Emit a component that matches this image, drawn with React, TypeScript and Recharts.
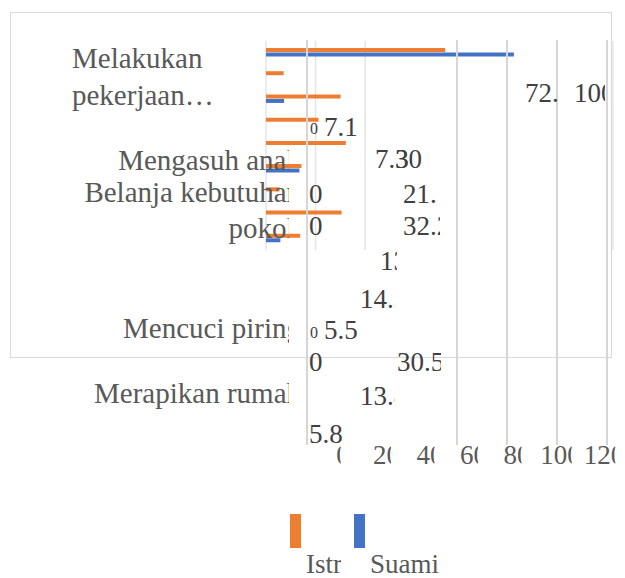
import { BarChart, Bar, XAxis, YAxis, CartesianGrid, Legend } from "recharts";

// only every other category name is shown in the picture
const categories = [
  "Melakukan pekerjaan…",
  "",
  "Mengasuh anak",
  "",
  "Belanja kebutuhan pokok",
  "",
  "Mencuci piring",
  "",
  "Merapikan rumah",
];
const istri = [72.3, 7.1, 30.1, 21.2, 32.2, 14.3, 5.5, 30.5, 13.8];
const suami = [100, 0, 7.3, 0, 0, 13.5, 0, 0, 5.8];
const seriesNames = ["Istri", "Suami"];
const barGridTicks = [20, 40];
const frontGridTicks = [0, 60, 80, 100, 120];
const axisTicks = [0, 20, 40, 60, 80, 100, 120];

const W = 625;
const H = 578;
const ORANGE = "#ED7D31";
const BLUE = "#4472C4";
const SERIF = "'Liberation Serif', 'Times New Roman', serif";
const PLOT_LEFT = 266;
const PLOT_TOP = 41;
const PLOT_BOTTOM = 250;

const rows = categories.map((name, i) => ({ id: i, name, istri: istri[i], suami: suami[i] }));

// placement of the (overlapping) category texts and value texts
const catLayout = [
  { index: 0, top: 40, left: 72 },
  { index: 2, top: 142 },
  { index: 4, top: 174 },
  { index: 6, top: 310 },
  { index: 8, top: 375 },
];
const valueLayout = [
  { s: 0, i: 0, x: 525, y: 93, clip: 33 },
  { s: 1, i: 0, x: 574, y: 93, clip: 31 },
  { s: 1, i: 1, x: 310, y: 129, small: true },
  { s: 0, i: 1, x: 324, y: 127 },
  { s: 1, i: 2, x: 375, y: 159 },
  { s: 0, i: 2, x: 395, y: 159, clip: 28 },
  { s: 1, i: 3, x: 309, y: 194 },
  { s: 0, i: 3, x: 403, y: 194, clip: 34 },
  { s: 1, i: 4, x: 309, y: 226 },
  { s: 0, i: 4, x: 403, y: 226, clip: 37 },
  { s: 1, i: 5, x: 380, y: 261, clip: 17 },
  { s: 0, i: 5, x: 360, y: 299, clip: 35 },
  { s: 1, i: 6, x: 310, y: 333, small: true },
  { s: 0, i: 6, x: 324, y: 330 },
  { s: 1, i: 7, x: 309, y: 362 },
  { s: 0, i: 7, x: 397, y: 362, clip: 44 },
  { s: 0, i: 8, x: 360, y: 396, clip: 35 },
  { s: 1, i: 8, x: 309, y: 434 },
];

const BandTick = (props: any) => {
  const { y, index } = props;
  const half = (PLOT_BOTTOM - PLOT_TOP) / categories.length / 2;
  const line = (yy: number) => (
    <line x1={PLOT_LEFT - 7} x2={PLOT_LEFT - 1} y1={yy} y2={yy} stroke="#d9d9d9" strokeWidth={1.5} />
  );
  return (
    <g>
      {line(y - half)}
      {index === categories.length - 1 && line(y + half)}
    </g>
  );
};

const ClippedTick = (props: any) => {
  const { x, y, payload } = props;
  const text = String(payload.value);
  const fs = 27;
  const w = text.length * fs * 0.5;
  return (
    <svg x={x - w / 2} y={y} width={Math.max(w - 9, 1)} height={40}>
      <text x={0} y={24} fontFamily={SERIF} fontSize={fs} fill="#595959">
        {text}
      </text>
    </svg>
  );
};

const LegendBox = (props: any) => {
  const items = props.payload || [];
  return (
    <div style={{ position: "absolute", left: 290, top: 514, fontFamily: SERIF, fontSize: 27, color: "#595959" }}>
      {items.map((it: any, i: number) => (
        <div key={i} style={{ position: "absolute", left: i * 64, top: 0 }}>
          <div style={{ width: 11, height: 34, background: it.color }} />
          <div
            style={{
              position: "absolute",
              left: 16,
              top: 35,
              lineHeight: "30px",
              whiteSpace: "nowrap",
              overflow: "hidden",
              width: i < items.length - 1 ? 35 : "auto",
            }}
          >
            {it.value}
          </div>
        </div>
      ))}
    </div>
  );
};

const layer: React.CSSProperties = { position: "absolute", left: 0, top: 0 };

export default function App() {
  return (
    <div style={{ position: "absolute", left: 0, top: 0, width: W, height: H, background: "#fff", overflow: "hidden" }}>
      <div
        style={{
          position: "absolute",
          left: 10,
          top: 12,
          width: 602,
          height: 346,
          border: "1px solid #d9d9d9",
          boxSizing: "border-box",
        }}
      />

      {/* bars */}
      <div style={layer}>
        <BarChart
          width={W}
          height={H}
          data={rows}
          layout="vertical"
          barSize={4}
          barGap={0.5}
          margin={{ top: PLOT_TOP, right: 12, bottom: H - PLOT_BOTTOM, left: PLOT_LEFT }}
        >
          <CartesianGrid horizontal={false} stroke="#e4e4e4" strokeWidth={1.5} />
          <XAxis type="number" domain={[0, 140]} ticks={barGridTicks} hide />
          <YAxis
            type="category"
            dataKey="id"
            width={0}
            axisLine={false}
            tickLine={false}
            interval={0}
            tick={<BandTick />}
          />
          <Bar dataKey="istri" name={seriesNames[0]} fill={ORANGE} isAnimationActive={false} />
          <Bar dataKey="suami" name={seriesNames[1]} fill={BLUE} isAnimationActive={false} />
          <Legend
            content={<LegendBox />}
            wrapperStyle={{ position: "absolute", left: 0, top: 0, width: 0, height: 0, overflow: "visible" }}
          />
        </BarChart>
      </div>

      {/* front gridlines (drawn over the bars) */}
      <div style={layer}>
        <BarChart width={W} height={H} data={rows} layout="vertical" margin={{ top: 40, right: W - 607, bottom: H - 445, left: 307 }}>
          <CartesianGrid horizontal={false} stroke="#d6d6d6" strokeWidth={2} />
          <XAxis type="number" domain={[0, 120]} ticks={frontGridTicks} interval={0} hide />
          <YAxis type="category" dataKey="id" hide />
          <Bar dataKey="suami" fillOpacity={0} isAnimationActive={false} />
        </BarChart>
      </div>

      {/* value axis labels */}
      <div style={layer}>
        <BarChart width={W} height={H} data={rows} layout="vertical" margin={{ top: 40, right: W - 604, bottom: H - 470, left: 343 }}>
          <XAxis
            type="number"
            domain={[0, 120]}
            ticks={axisTicks}
            interval={0}
            height={30}
            axisLine={false}
            tickLine={false}
            tickSize={0}
            tickMargin={0}
            tick={<ClippedTick />}
          />
          <YAxis type="category" dataKey="id" hide />
          <Bar dataKey="suami" fillOpacity={0} isAnimationActive={false} />
        </BarChart>
      </div>

      {/* category names */}
      <div style={{ ...layer, width: 289, height: H, overflow: "hidden", fontFamily: SERIF, fontSize: 29, color: "#595959" }}>
        {catLayout.map((c) =>
          c.left !== undefined ? (
            <div key={c.index} style={{ position: "absolute", left: c.left, top: c.top, width: 150, lineHeight: "37px" }}>
              {categories[c.index]}
            </div>
          ) : (
            <div
              key={c.index}
              style={{ position: "absolute", left: 301 - 235, top: c.top, width: 235, textAlign: "right", lineHeight: "36px" }}
            >
              {categories[c.index]}
            </div>
          )
        )}
      </div>

      {/* value labels */}
      <svg style={{ ...layer }} width={W} height={H}>
        {valueLayout.map((v, k) => {
          const val = (v.s === 0 ? istri : suami)[v.i];
          const fs = v.small ? 16 : 27;
          return (
            <svg key={k} x={v.x} y={v.y - 20} width={v.clip ?? 60} height={40}>
              <text x={0} y={20 + fs * 0.33} fontFamily={SERIF} fontSize={fs} fill="#404040">
                {String(val)}
              </text>
            </svg>
          );
        })}
      </svg>
    </div>
  );
}
